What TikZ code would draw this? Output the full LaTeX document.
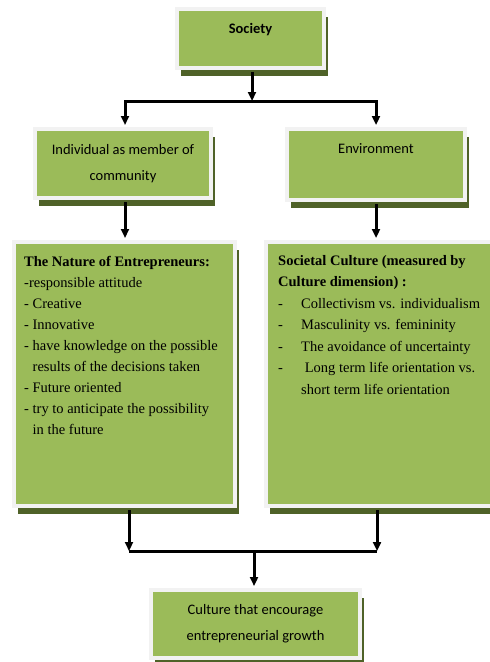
\documentclass[tikz,border=0pt]{standalone}
\usepackage{fontspec}
\setmainfont{Liberation Serif}
\newfontfamily\calibri{Carlito}
\usetikzlibrary{arrows.meta,shadows}
\definecolor{boxgreen}{HTML}{9BBB59}
\definecolor{boxrim}{HTML}{F2F2F2}
\definecolor{boxshade}{HTML}{4F6228}
\def\dashitem#1{\makebox[23pt][l]{-}#1}
\tikzset{
	greenbox/.style={rectangle, fill=boxgreen, draw=boxrim, line width=4pt, inner sep=0pt,
		drop shadow={shadow xshift=4pt, shadow yshift=-8pt, fill=boxshade, opacity=1}},
	titlebox/.style={greenbox, align=center, text=black, font=\calibri\fontsize{14.5}{26}\selectfont},
	listtext/.style={anchor=north west, inner sep=0pt, align=left, text=black, font=\fontsize{14.5}{21}\selectfont},
	conn/.style={line width=3pt, -{Triangle[width=8pt,length=9pt]}},
	barline/.style={line width=3pt},
}
\begin{document}
\begin{tikzpicture}[x=1pt,y=-1pt]
				\useasboundingbox[fill=white] (0,0) rectangle (490,662);
				
				\node[titlebox, minimum width=147pt, minimum height=59pt, text height=10pt, text depth=21pt, font=\calibri\bfseries\fontsize{14.5}{26}\selectfont] (society) at (250.5,38.5) {Society};
				
				\node[titlebox, minimum width=176pt, minimum height=69pt] (indiv) at (123,163.5) {Individual as member of\\community};
				\node[titlebox, minimum width=178pt, minimum height=71pt, text height=10pt, text depth=33pt] (env) at (376,164.5) {Environment};
				
				\node[greenbox, minimum width=221pt, minimum height=264pt] (nature) at (124.5,374) {};
				\node[listtext] (natureText) at (24,256) {\textbf{The Nature of Entrepreneurs:}\\
					-responsible attitude\\
					- Creative\\
					- Innovative\\
					- have knowledge on the possible\\
					\hspace*{8.5pt}results of the decisions taken\\
					- Future oriented\\
					- try to anticipate the possibility\\
					\hspace*{8.5pt}in the future};
				
				\node[greenbox, minimum width=234pt, minimum height=264pt] (societal) at (383,374) {};
				\node[listtext, font=\fontsize{14.5}{21.5}\selectfont] (societalText) at (278,255) {\textbf{Societal Culture (measured by}\\
					\textbf{Culture dimension) :}\\
					\dashitem{Collectivism vs. individualism}\\
					\dashitem{Masculinity vs. femininity}\\
					\dashitem{The avoidance of uncertainty}\\
					\dashitem{\ Long term life orientation vs.}\\
					\hspace*{23pt}short term life orientation};
				
				\node[titlebox, minimum width=209pt, minimum height=68pt] (final) at (255.5,624) {Culture that encourage\\entrepreneurial growth};
				
				\coordinate (splitL) at (125,101);
				\coordinate (splitM) at (252,101);
				\coordinate (splitR) at (376,101);
				\draw[conn, shorten <=2pt] (society.south -| splitM) -- (splitM);
				\draw[line width=3pt, {Triangle[width=8pt,length=9pt]}-{Triangle[width=8pt,length=9pt]}, shorten <=2pt, shorten >=2pt] (indiv.north -| splitL) |- (splitM) -| (env.north -| splitR);
				\draw[conn, shorten <=2pt, shorten >=2pt] (indiv.south -| splitL) -- (nature.north -| splitL);
				\draw[conn, shorten <=2pt, shorten >=2pt] (env.south -| splitR) -- (societal.north -| splitR);
				
				\coordinate (joinL) at (129,551);
				\coordinate (joinM) at (254,551);
				\coordinate (joinR) at (377,551);
				\draw[conn, shorten <=2pt] (nature.south -| joinL) -- (joinL);
				\draw[conn, shorten <=2pt] (societal.south -| joinR) -- (joinR);
				\draw[barline] (joinL) -- (joinR);
				\draw[conn, shorten >=2pt] (joinM) -- (final.north -| joinM);
\end{tikzpicture}
\end{document}
